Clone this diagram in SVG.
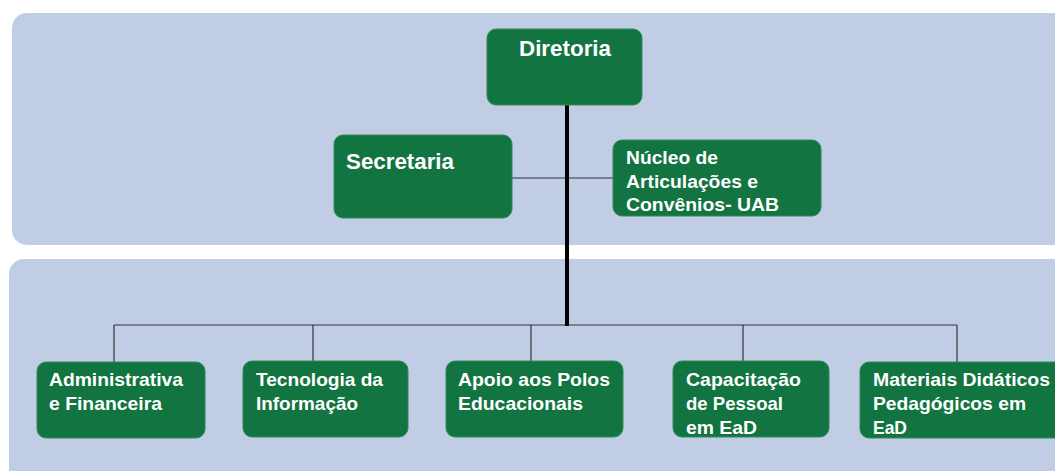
<svg xmlns="http://www.w3.org/2000/svg" width="1055" height="471" viewBox="0 0 1055 471">
<style>
.band{fill:#c1cde4}
.box{fill:#127440;stroke:#2e8a57;stroke-width:1}
.t{font-family:"Liberation Sans",Arial,sans-serif;font-weight:bold;fill:#ffffff}
.big{font-size:21.5px}
.mid{font-size:18px}
.sm{font-size:18.5px}
.thin{stroke:#333333;stroke-width:1.2;fill:none}
.thick{stroke:#000000;stroke-width:4;fill:none}
</style>
<rect width="1055" height="471" fill="#ffffff"/>
<rect class="band" x="12" y="13" width="1070" height="232" rx="15"/>
<rect class="band" x="9" y="259" width="1070" height="240" rx="15"/>
<g id="connectors">
<line class="thin" x1="512" y1="178" x2="613" y2="178"/>
<line class="thin" x1="114" y1="325" x2="957" y2="325"/>
<line class="thin" x1="114" y1="325" x2="114" y2="362"/>
<line class="thin" x1="313" y1="325" x2="313" y2="361"/>
<line class="thin" x1="531" y1="325" x2="531" y2="361"/>
<line class="thin" x1="743" y1="325" x2="743" y2="361"/>
<line class="thin" x1="957" y1="325" x2="957" y2="362"/>
<line class="thick" x1="567" y1="105" x2="567" y2="326"/>
</g>
<g id="diretoria">
<rect class="box" x="487" y="29" width="155" height="76" rx="9"/>
<text class="t big" x="519" y="56" textLength="92" lengthAdjust="spacingAndGlyphs">Diretoria</text>
</g>
<g id="secretaria">
<rect class="box" x="334" y="135" width="178" height="83" rx="9"/>
<text class="t big" x="346" y="169" textLength="108" lengthAdjust="spacingAndGlyphs">Secretaria</text>
</g>
<g id="nucleo">
<rect class="box" x="613" y="140" width="208" height="76" rx="9"/>
<text class="t mid" x="626" y="164" textLength="92" lengthAdjust="spacingAndGlyphs">Núcleo de</text>
<text class="t mid" x="626" y="188" textLength="132" lengthAdjust="spacingAndGlyphs">Articulações e</text>
<text class="t mid" x="626" y="211" textLength="153" lengthAdjust="spacingAndGlyphs">Convênios- UAB</text>
</g>
<g id="administrativa">
<rect class="box" x="37" y="362" width="168" height="76" rx="9"/>
<text class="t sm" x="49" y="386" textLength="134" lengthAdjust="spacingAndGlyphs">Administrativa</text>
<text class="t sm" x="49" y="410" textLength="113" lengthAdjust="spacingAndGlyphs">e Financeira</text>
</g>
<g id="tecnologia">
<rect class="box" x="243" y="361" width="165" height="76" rx="9"/>
<text class="t sm" x="256" y="386" textLength="127" lengthAdjust="spacingAndGlyphs">Tecnologia da</text>
<text class="t sm" x="256" y="410" textLength="102" lengthAdjust="spacingAndGlyphs">Informação</text>
</g>
<g id="apoio">
<rect class="box" x="446" y="361" width="177" height="76" rx="9"/>
<text class="t sm" x="458" y="386" textLength="152" lengthAdjust="spacingAndGlyphs">Apoio aos Polos</text>
<text class="t sm" x="458" y="410" textLength="125" lengthAdjust="spacingAndGlyphs">Educacionais</text>
</g>
<g id="capacitacao">
<rect class="box" x="673" y="361" width="156" height="76" rx="9"/>
<text class="t sm" x="686" y="386" textLength="115" lengthAdjust="spacingAndGlyphs">Capacitação</text>
<text class="t sm" x="686" y="410" textLength="97" lengthAdjust="spacingAndGlyphs">de Pessoal</text>
<text class="t sm" x="686" y="434" textLength="71" lengthAdjust="spacingAndGlyphs">em EaD</text>
</g>
<g id="materiais">
<rect class="box" x="860" y="362" width="210" height="76" rx="9"/>
<text class="t sm" x="873" y="386" textLength="177" lengthAdjust="spacingAndGlyphs">Materiais Didáticos</text>
<text class="t sm" x="873" y="410" textLength="153" lengthAdjust="spacingAndGlyphs">Pedagógicos em</text>
<text class="t sm" x="873" y="434" textLength="34" lengthAdjust="spacingAndGlyphs">EaD</text>
</g>
</svg>
